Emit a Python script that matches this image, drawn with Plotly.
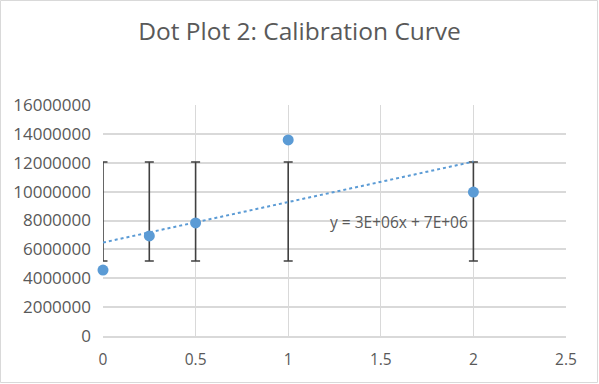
import plotly.graph_objects as go
import numpy as np

x_vals = [0, 0.25, 0.5, 1, 2]
y_vals = [4570000, 6930000, 7830000, 13580000, 9970000]
err_low = [5200000, 5200000, 5200000, 5200000, 5200000]
err_high = [12050000, 12050000, 12050000, 12050000, 12050000]
y_ticks = [0, 2000000, 4000000, 6000000, 8000000, 10000000, 12000000, 14000000, 16000000]
x_ticks = [0, 0.5, 1, 1.5, 2, 2.5]
equation_text = "y = 3E+06x + 7E+06"

blue = "#5B9BD5"
grey_text = "#595959"
grid = "#D9D9D9"
font_family = "Open Sans, Liberation Sans, sans-serif"

slope, intercept = np.polyfit(x_vals, y_vals, 1)
trend_x = [min(x_vals), max(x_vals)]
trend_y = [slope * v + intercept for v in trend_x]

err_center = [(lo + hi) / 2 for lo, hi in zip(err_low, err_high)]
err_half = [(hi - lo) / 2 for lo, hi in zip(err_low, err_high)]

L, R, T, B = 103, 33, 105, 48
PW, PH = 599 - L - R, 384 - T - B

fig = go.Figure()
fig.add_trace(go.Scatter(
    x=x_vals, y=err_center, mode="markers",
    marker=dict(size=0.1, color="rgba(0,0,0,0)"),
    error_y=dict(type="data", array=err_half, symmetric=True,
                 color="#404040", thickness=1.6, width=4.5),
    hoverinfo="skip", showlegend=False,
))
fig.add_trace(go.Scatter(
    x=trend_x, y=trend_y, mode="lines",
    line=dict(color=blue, width=2, dash="dot"),
    showlegend=False,
))
fig.add_trace(go.Scatter(
    x=x_vals, y=y_vals, mode="markers",
    marker=dict(size=11, color=blue),
    showlegend=False, cliponaxis=False,
))

fig.add_annotation(x=1.6, y=7900000, text=equation_text, showarrow=False,
                   font=dict(family=font_family, size=15.5, color=grey_text))

fig.add_shape(type="rect", xref="paper", yref="paper",
              x0=-(L - 0.5) / PW, x1=1 + (R - 1.5) / PW,
              y0=-(B - 1.5) / PH, y1=1 + (T - 0.5) / PH,
              line=dict(color=grid, width=1), fillcolor="rgba(0,0,0,0)", layer="below")

fig.update_layout(
    width=599, height=384,
    margin=dict(l=L, r=R, t=T, b=B, autoexpand=False),
    paper_bgcolor="white", plot_bgcolor="white",
    title=dict(text="Dot Plot 2: Calibration Curve", x=0.5, xref="container",
               xanchor="center", y=1 - 31 / 384, yref="container", yanchor="middle",
               font=dict(family=font_family, size=24.5, color=grey_text)),
    font=dict(family=font_family, color=grey_text, size=15.5),
    xaxis=dict(range=[0, 2.5], tickvals=x_ticks, ticktext=[str(t) for t in x_ticks],
               showgrid=True, gridcolor=grid, gridwidth=1,
               showline=True, linecolor=grid, linewidth=1.5, zeroline=False,
               ticks="", ticklabelstandoff=9, automargin=False,
               tickfont=dict(family=font_family, size=15.5, color=grey_text)),
    yaxis=dict(range=[0, 16000000], tickvals=y_ticks, ticktext=[str(t) for t in y_ticks],
               showgrid=True, gridcolor=grid, gridwidth=1.5,
               showline=False, zeroline=False,
               ticks="", ticklabelstandoff=11, automargin=False,
               tickfont=dict(family=font_family, size=17, color=grey_text)),
)

fig.write_html("out.html", config={"displayModeBar": False},
               post_script="document.body.style.margin='0';document.body.style.overflow='hidden';")
